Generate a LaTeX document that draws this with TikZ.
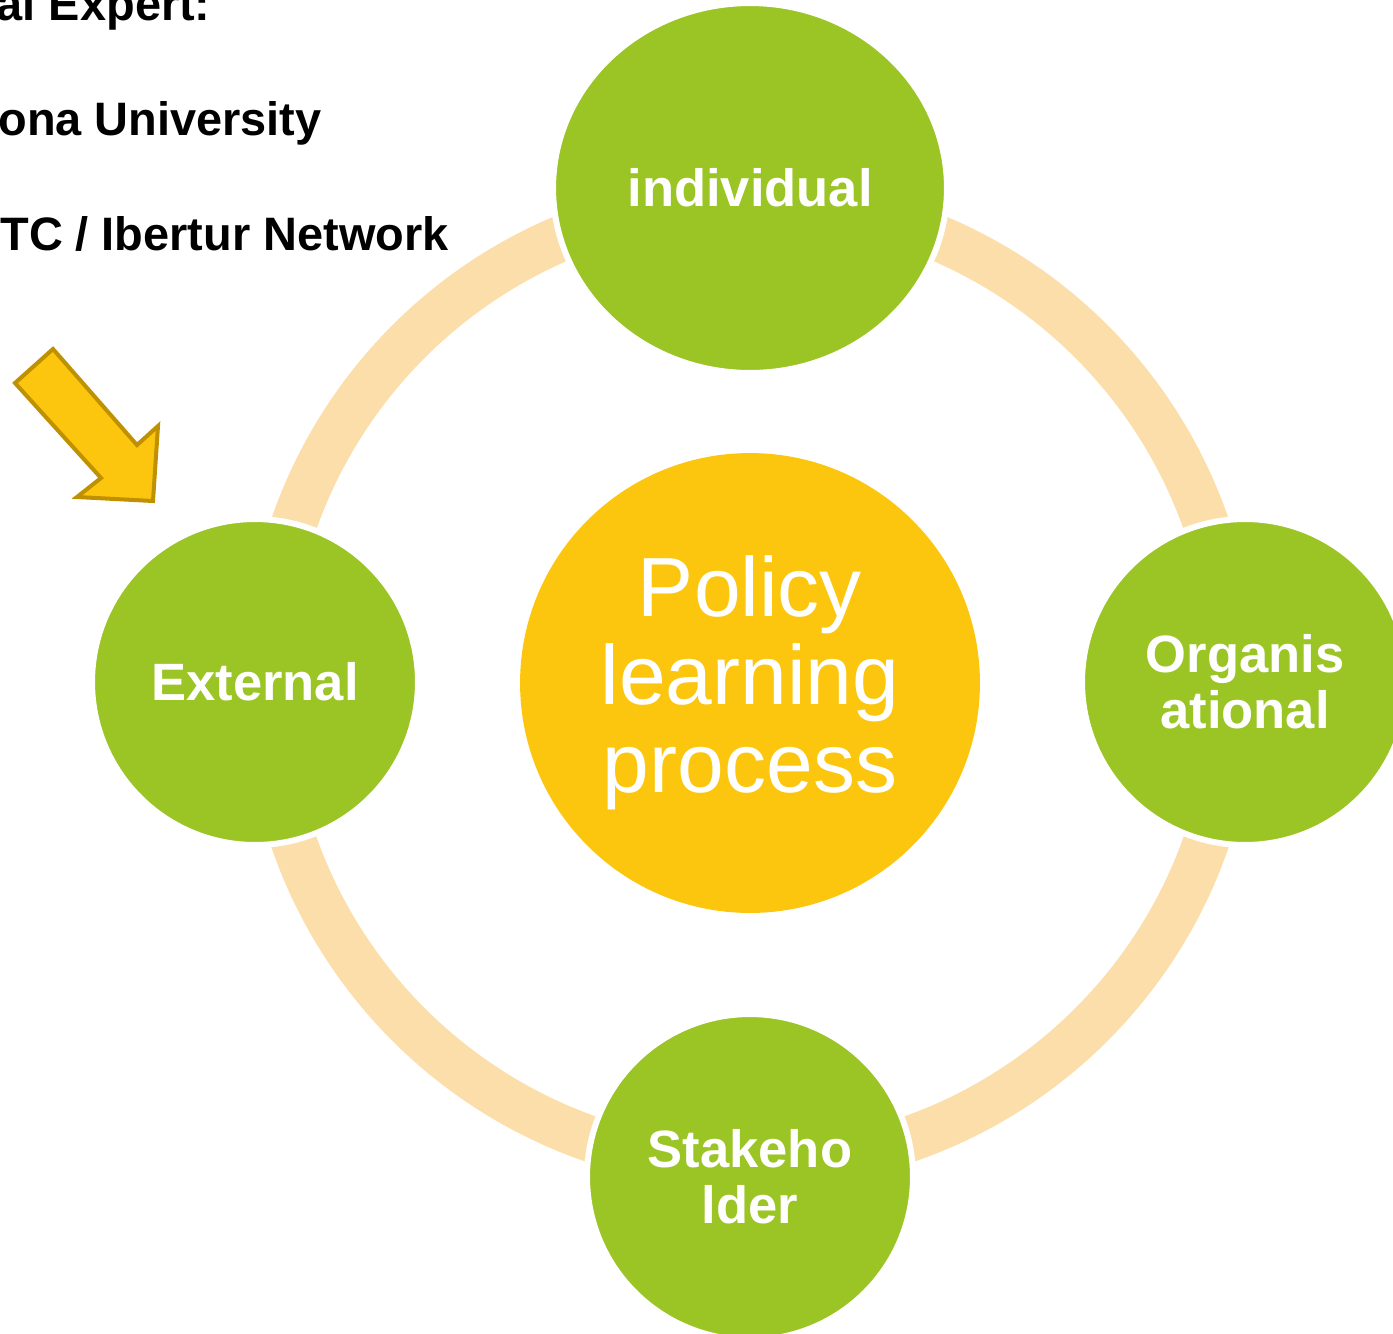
\documentclass[tikz,border=0pt]{standalone}
\usepackage{fontspec}
\setmainfont{Liberation Sans}
\usepackage{xcolor}
\usepackage{tikz}
\usetikzlibrary{shapes.geometric}
\definecolor{leaf}{HTML}{9BC425}
\definecolor{peach}{HTML}{FCDEAA}
\definecolor{gold}{HTML}{FCC60E}
\definecolor{goldEdge}{HTML}{BF9000}
\tikzset{
  ringBand/.style={draw=peach, line width=0.92cm},
  hubCircle/.style={circle, fill=gold, minimum size=9.2cm, inner sep=0pt,
    text=white, align=center, font=\fontsize{47.8}{50.1}\selectfont},
  spokeCircle/.style={circle, fill=leaf, draw=white, line width=0.12cm,
    minimum size=6.52cm, inner sep=0pt, text=white, align=center,
    font=\bfseries\fontsize{29.9}{31.9}\selectfont},
  noteText/.style={anchor=base east, inner sep=0pt, text=black,
    font=\bfseries\fontsize{26.7}{30}\selectfont},
  pointerArrow/.style={fill=gold, draw=goldEdge, line width=0.08cm, line join=miter}
}

\begin{document}
\begin{tikzpicture}[x=0.02cm, y=-0.02cm]
  \useasboundingbox (0,0) rectangle (1393,1333);

  \def\ringR{9.66cm}
  \coordinate (hub) at (750,683);

  \draw[ringBand] (hub) circle (\ringR);

  \node[hubCircle] (policy) at (hub) {Policy\\learning\\process};

  \node[spokeCircle, ellipse, minimum width=7.88cm, minimum height=7.4cm] (individual) at (750,188) {individual};
  \node[spokeCircle] (organisational) at (1245,682) {Organis\\ational};
  \node[spokeCircle] (stakeholder) at (750,1177) {Stakeho\\lder};
  \node[spokeCircle] (external) at (255,682) {External};

  \draw[pointerArrow] (53,349) -- (137,445) -- (158,426) -- (153,501) -- (77,497) -- (101,478) -- (15,383) -- cycle;

  \node[noteText] (expert) at (211,20) {al Expert:};
  \node[noteText] (university) at (322,135) {ona University};
  \node[noteText] (network) at (449,250) {TC / Ibertur Network};
\end{tikzpicture}
\end{document}
